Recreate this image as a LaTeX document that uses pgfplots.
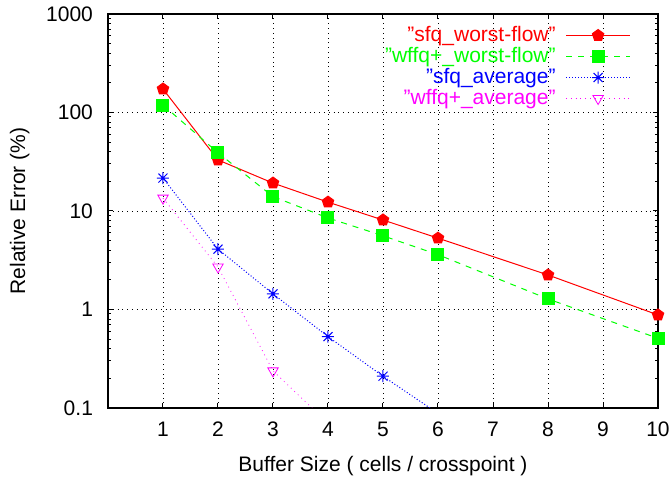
\documentclass[border=0pt]{standalone}
\usepackage{fontspec}
\setmainfont{Liberation Sans}
\usepackage{pgfplots}
\pgfplotsset{compat=1.18}
\usetikzlibrary{calc,plotmarks}
\definecolor{gpgreen}{RGB}{0,255,0}
\definecolor{gpmag}{RGB}{255,0,255}

% gnuplot style "*" : plus and cross together
\pgfdeclareplotmark{plusx}{%
  \pgfpathmoveto{\pgfqpoint{-\pgfplotmarksize}{0pt}}%
  \pgfpathlineto{\pgfqpoint{\pgfplotmarksize}{0pt}}%
  \pgfpathmoveto{\pgfqpoint{0pt}{-\pgfplotmarksize}}%
  \pgfpathlineto{\pgfqpoint{0pt}{\pgfplotmarksize}}%
  \pgfpathmoveto{\pgfqpoint{-0.75\pgfplotmarksize}{-0.75\pgfplotmarksize}}%
  \pgfpathlineto{\pgfqpoint{0.75\pgfplotmarksize}{0.75\pgfplotmarksize}}%
  \pgfpathmoveto{\pgfqpoint{-0.75\pgfplotmarksize}{0.75\pgfplotmarksize}}%
  \pgfpathlineto{\pgfqpoint{0.75\pgfplotmarksize}{-0.75\pgfplotmarksize}}%
  \pgfusepathqstroke}

\newcommand{\gpfont}{\fontsize{10.5}{11}\selectfont}

\begin{document}
\begin{tikzpicture}
\begin{semilogyaxis}[
  scale only axis,
  width=275pt,height=197pt,
  xmin=0,xmax=10,ymin=0.1,ymax=1000,
  xtick={1,2,...,10},
  ytick={0.1,1,10,100,1000},
  yticklabels={0.1,1,10,100,1000},
  font=\gpfont,
  tick label style={font=\gpfont},
  yticklabel style={xshift=-4pt},
  xticklabel style={yshift=-3.5pt},
  /pgf/number format/assume math mode=true,
  xlabel={Buffer Size ( cells / crosspoint )},
  ylabel={Relative Error (\%)},
  xlabel style={yshift=-3pt},
  ylabel style={yshift=1.5pt},
  axis line style={line width=0.75pt},
  tick style={black,line width=0.5pt},
  tick align=inside,
  major tick length=2.5pt,
  minor tick length=1.5pt,
  grid=major,
  grid style={dotted,black,line width=0.4pt},
  legend style={at={(rel axis cs:1,1)},anchor=north east,xshift=-10.5pt,yshift=-2pt,
    draw=none,fill=none,font=\gpfont,
    row sep=-2.6pt,column sep=3pt,
    nodes={inner ysep=2pt}},
  legend plot pos=right,
  legend cell align=right,
  legend image code/.code={%
    \draw[mark repeat=2,mark phase=2,#1]
      plot coordinates {(0pt,0pt) (16pt,0pt) (32pt,0pt)};},
]
\addplot[red,line width=0.5pt,mark=pentagon*,mark size=3pt,mark options={solid}]
  coordinates {(1,173) (2,33) (3,19.2) (4,12.3) (5,8.1) (6,5.3) (8,2.24) (10,0.88)};
\addlegendentry{\textcolor{red}{"sfq\_worst-flow"}}
\addplot[gpgreen,line width=0.5pt,dashed,mark=square*,mark size=3pt,mark options={solid}]
  coordinates {(1,119) (2,39) (3,14) (4,8.5) (5,5.6) (6,3.6) (8,1.28) (10,0.51)};
\addlegendentry{\textcolor{gpgreen}{"wffq+\_worst-flow"}}
\addplot[blue,line width=0.5pt,densely dotted,mark=plusx,mark size=3pt,mark options={solid}]
  coordinates {(1,21.6) (2,4.1) (3,1.44) (4,0.53) (5,0.21) (6,0.088)};
\addlegendentry{\textcolor{blue}{"sfq\_average"}}
\addplot[gpmag,line width=0.4pt,dotted,mark=triangle,mark size=3pt,mark options={solid,rotate=180}]
  coordinates {(1,13.5) (2,2.7) (3,0.238) (4,0.07)};
\addlegendentry{\textcolor{gpmag}{"wffq+\_average"}}
\end{semilogyaxis}
\pgfresetboundingbox
\path[use as bounding box] ($(current axis.south west)+(-54pt,-36.5pt)$)
  rectangle ($(current axis.north east)+(6pt,7pt)$);
\end{tikzpicture}
\end{document}
